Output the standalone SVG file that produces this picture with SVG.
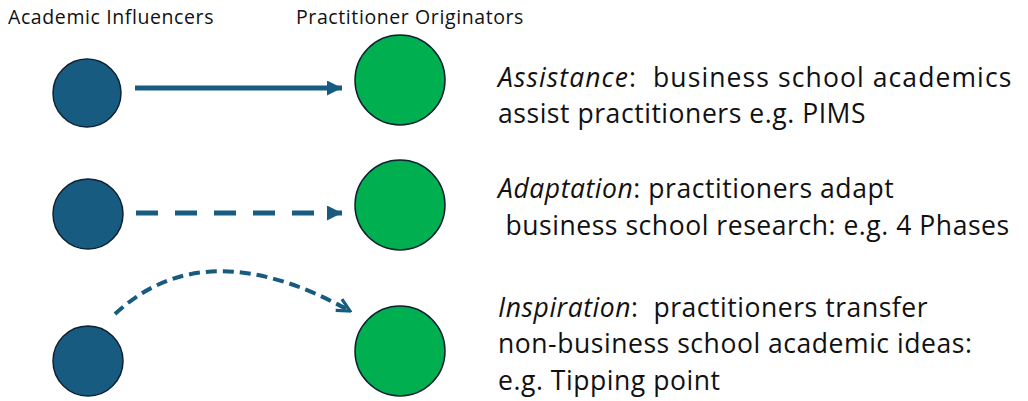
<svg xmlns="http://www.w3.org/2000/svg" width="1028" height="401" viewBox="0 0 1028 401">
  <style>
    .hdr { font-family: "Open Sans", "Liberation Sans", sans-serif; font-size: 19.5px; letter-spacing: 0.6px; fill: #111; }
    .txt { font-family: "Open Sans", "Liberation Sans", sans-serif; font-size: 26.5px; letter-spacing: 0.55px; fill: #111; white-space: pre; }
    .wide { letter-spacing: 1.1px; }
    .em { font-style: italic; }
    .acad { fill: #175C80; stroke: #0E2233; stroke-width: 1.5; }
    .prac { fill: #00B050; stroke: #0E2233; stroke-width: 1.5; }
    .link { stroke: #175C80; fill: none; }
  </style>
  <defs>
    <marker id="tri" viewBox="0 0 10 10" refX="10" refY="5" markerWidth="3" markerHeight="3" markerUnits="strokeWidth" orient="auto">
      <path d="M0,0 L10,5 L0,10 Z" fill="#175C80"/>
    </marker>
    <marker id="vee" viewBox="0 0 10 10" refX="9" refY="5" markerWidth="4" markerHeight="4" markerUnits="strokeWidth" orient="auto">
      <path d="M1,1 L9,5 L1,9" fill="none" stroke="#175C80" stroke-width="2"/>
    </marker>
  </defs>

  <!-- column headings -->
  <text class="hdr" x="8" y="24">Academic Influencers</text>
  <text class="hdr" x="296" y="24">Practitioner Originators</text>

  <!-- row 1: assistance -->
  <g id="academic-1"><circle class="acad" cx="87" cy="93" r="34"/></g>
  <g id="practitioner-1"><circle class="prac" cx="400" cy="80" r="45"/></g>
  <g id="label-assistance">
    <text class="txt wide" x="498" y="87"><tspan class="em">Assistance</tspan>:  business school academics</text>
    <text class="txt" x="498" y="123">assist practitioners e.g. PIMS</text>
  </g>

  <!-- row 2: adaptation -->
  <g id="academic-2"><circle class="acad" cx="88" cy="214" r="35"/></g>
  <g id="practitioner-2"><circle class="prac" cx="400" cy="205" r="45"/></g>
  <g id="label-adaptation">
    <text class="txt" x="498" y="198"><tspan class="em">Adaptation</tspan>: practitioners adapt</text>
    <text class="txt" x="498" y="235"> business school research: e.g. 4 Phases</text>
  </g>

  <!-- row 3: inspiration -->
  <g id="academic-3"><circle class="acad" cx="88" cy="361" r="35"/></g>
  <g id="practitioner-3"><circle class="prac" cx="400" cy="351" r="45"/></g>
  <g id="label-inspiration">
    <text class="txt" x="498" y="317"><tspan class="em">Inspiration</tspan>:  practitioners transfer</text>
    <text class="txt" x="498" y="353">non-business school academic ideas:</text>
    <text class="txt" x="498" y="390">e.g. Tipping point</text>
  </g>

  <!-- connectors -->
  <g id="connectors">
    <line class="link" x1="135" y1="88" x2="342" y2="88" stroke-width="5" marker-end="url(#tri)"/>
    <line class="link" x1="136" y1="213" x2="342" y2="213" stroke-width="5" stroke-dasharray="22 17" marker-end="url(#tri)"/>
    <path class="link" d="M115,314 Q205,230 350,311" stroke-width="4" stroke-dasharray="11 6" marker-end="url(#vee)"/>
  </g>
</svg>
